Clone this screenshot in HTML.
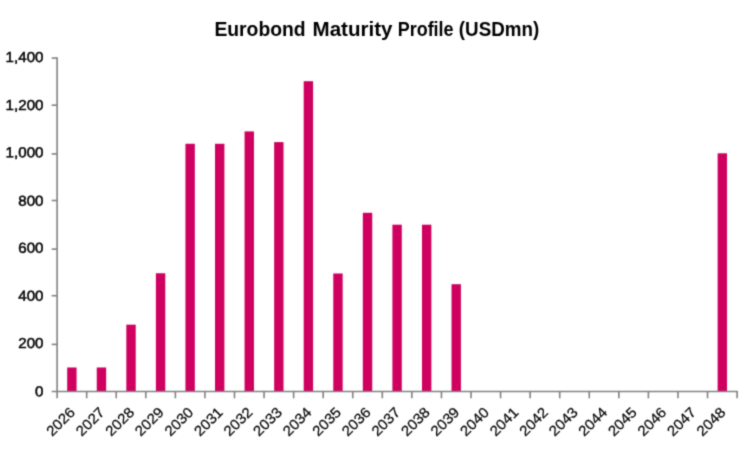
<!DOCTYPE html>
<html><head><meta charset="utf-8"><title>Eurobond Maturity Profile</title>
<style>
html,body{margin:0;padding:0;background:#fff;}
body{width:752px;height:450px;position:relative;overflow:hidden;font-family:"Liberation Sans",sans-serif;}
svg text{font-family:"Liberation Sans",sans-serif;}
</style></head><body>
<svg width="752" height="450" viewBox="0 0 752 450" style="position:absolute;left:0;top:0"><defs><filter id="bl" color-interpolation-filters="sRGB" x="0" y="0" width="752" height="450" filterUnits="userSpaceOnUse"><feConvolveMatrix order="3" kernelMatrix="1 4 1 4 16 4 1 4 1" divisor="36" edgeMode="none" preserveAlpha="false"/></filter></defs><g filter="url(#bl)">
<rect x="67.18" y="367.50" width="9.4" height="23.80" fill="#CF005F"/>
<rect x="96.75" y="367.50" width="9.4" height="23.80" fill="#CF005F"/>
<rect x="126.31" y="324.66" width="9.4" height="66.64" fill="#CF005F"/>
<rect x="155.88" y="273.25" width="9.4" height="118.05" fill="#CF005F"/>
<rect x="185.44" y="143.78" width="9.4" height="247.52" fill="#CF005F"/>
<rect x="215.01" y="143.78" width="9.4" height="247.52" fill="#CF005F"/>
<rect x="244.57" y="131.40" width="9.4" height="259.90" fill="#CF005F"/>
<rect x="274.14" y="142.11" width="9.4" height="249.19" fill="#CF005F"/>
<rect x="303.70" y="81.19" width="9.4" height="310.11" fill="#CF005F"/>
<rect x="333.27" y="273.49" width="9.4" height="117.81" fill="#CF005F"/>
<rect x="362.83" y="212.80" width="9.4" height="178.50" fill="#CF005F"/>
<rect x="392.40" y="224.70" width="9.4" height="166.60" fill="#CF005F"/>
<rect x="421.97" y="224.70" width="9.4" height="166.60" fill="#CF005F"/>
<rect x="451.53" y="284.20" width="9.4" height="107.10" fill="#CF005F"/>
<rect x="717.62" y="153.30" width="9.4" height="238.00" fill="#CF005F"/>
<line x1="57.1" y1="57.300000000000004" x2="57.1" y2="398.3" stroke="#828282" stroke-width="1.6"/>
<line x1="51.7" y1="391.45" x2="737.9" y2="391.45" stroke="#828282" stroke-width="1.6"/>
<line x1="51.7" y1="344.40" x2="57.1" y2="344.40" stroke="#828282" stroke-width="1.6"/>
<line x1="51.7" y1="295.70" x2="57.1" y2="295.70" stroke="#828282" stroke-width="1.6"/>
<line x1="51.7" y1="249.10" x2="57.1" y2="249.10" stroke="#828282" stroke-width="1.6"/>
<line x1="51.7" y1="200.50" x2="57.1" y2="200.50" stroke="#828282" stroke-width="1.6"/>
<line x1="51.7" y1="153.90" x2="57.1" y2="153.90" stroke="#828282" stroke-width="1.6"/>
<line x1="51.7" y1="105.20" x2="57.1" y2="105.20" stroke="#828282" stroke-width="1.6"/>
<line x1="51.7" y1="58.10" x2="57.1" y2="58.10" stroke="#828282" stroke-width="1.6"/>
<line x1="86.67" y1="391.3" x2="86.67" y2="398.3" stroke="#828282" stroke-width="1.6"/>
<line x1="116.23" y1="391.3" x2="116.23" y2="398.3" stroke="#828282" stroke-width="1.6"/>
<line x1="145.80" y1="391.3" x2="145.80" y2="398.3" stroke="#828282" stroke-width="1.6"/>
<line x1="175.36" y1="391.3" x2="175.36" y2="398.3" stroke="#828282" stroke-width="1.6"/>
<line x1="204.93" y1="391.3" x2="204.93" y2="398.3" stroke="#828282" stroke-width="1.6"/>
<line x1="234.49" y1="391.3" x2="234.49" y2="398.3" stroke="#828282" stroke-width="1.6"/>
<line x1="264.06" y1="391.3" x2="264.06" y2="398.3" stroke="#828282" stroke-width="1.6"/>
<line x1="293.62" y1="391.3" x2="293.62" y2="398.3" stroke="#828282" stroke-width="1.6"/>
<line x1="323.19" y1="391.3" x2="323.19" y2="398.3" stroke="#828282" stroke-width="1.6"/>
<line x1="352.75" y1="391.3" x2="352.75" y2="398.3" stroke="#828282" stroke-width="1.6"/>
<line x1="382.32" y1="391.3" x2="382.32" y2="398.3" stroke="#828282" stroke-width="1.6"/>
<line x1="411.88" y1="391.3" x2="411.88" y2="398.3" stroke="#828282" stroke-width="1.6"/>
<line x1="441.45" y1="391.3" x2="441.45" y2="398.3" stroke="#828282" stroke-width="1.6"/>
<line x1="471.01" y1="391.3" x2="471.01" y2="398.3" stroke="#828282" stroke-width="1.6"/>
<line x1="500.58" y1="391.3" x2="500.58" y2="398.3" stroke="#828282" stroke-width="1.6"/>
<line x1="530.14" y1="391.3" x2="530.14" y2="398.3" stroke="#828282" stroke-width="1.6"/>
<line x1="559.71" y1="391.3" x2="559.71" y2="398.3" stroke="#828282" stroke-width="1.6"/>
<line x1="589.27" y1="391.3" x2="589.27" y2="398.3" stroke="#828282" stroke-width="1.6"/>
<line x1="618.84" y1="391.3" x2="618.84" y2="398.3" stroke="#828282" stroke-width="1.6"/>
<line x1="648.40" y1="391.3" x2="648.40" y2="398.3" stroke="#828282" stroke-width="1.6"/>
<line x1="677.97" y1="391.3" x2="677.97" y2="398.3" stroke="#828282" stroke-width="1.6"/>
<line x1="707.53" y1="391.3" x2="707.53" y2="398.3" stroke="#828282" stroke-width="1.6"/>
<line x1="737.10" y1="391.3" x2="737.10" y2="398.3" stroke="#828282" stroke-width="1.6"/>
<text transform="rotate(-0.03 43 396.30)" x="35.08" y="396.30" font-size="14.4" fill="#000" stroke="#000" stroke-width="0.5" textLength="8.42" lengthAdjust="spacingAndGlyphs">0</text>
<text transform="rotate(-0.03 43 348.10)" x="18.24" y="348.10" font-size="14.4" fill="#000" stroke="#000" stroke-width="0.5" textLength="25.26" lengthAdjust="spacingAndGlyphs">200</text>
<text transform="rotate(-0.03 43 300.80)" x="18.24" y="300.80" font-size="14.4" fill="#000" stroke="#000" stroke-width="0.5" textLength="25.26" lengthAdjust="spacingAndGlyphs">400</text>
<text transform="rotate(-0.03 43 252.80)" x="18.24" y="252.80" font-size="14.4" fill="#000" stroke="#000" stroke-width="0.5" textLength="25.26" lengthAdjust="spacingAndGlyphs">600</text>
<text transform="rotate(-0.03 43 205.80)" x="18.24" y="205.80" font-size="14.4" fill="#000" stroke="#000" stroke-width="0.5" textLength="25.26" lengthAdjust="spacingAndGlyphs">800</text>
<text transform="rotate(-0.03 43 157.20)" x="5.61" y="157.20" font-size="14.4" fill="#000" stroke="#000" stroke-width="0.5" textLength="37.89" lengthAdjust="spacingAndGlyphs">1,000</text>
<text transform="rotate(-0.03 43 109.90)" x="5.61" y="109.90" font-size="14.4" fill="#000" stroke="#000" stroke-width="0.5" textLength="37.89" lengthAdjust="spacingAndGlyphs">1,200</text>
<text transform="rotate(-0.03 43 62.00)" x="5.61" y="62.00" font-size="14.4" fill="#000" stroke="#000" stroke-width="0.5" textLength="37.89" lengthAdjust="spacingAndGlyphs">1,400</text>
<text transform="translate(68.68 405.90) rotate(-45)" x="-33.68" y="10.31" font-size="14.4" fill="#000" stroke="#000" stroke-width="0.22" textLength="33.68" lengthAdjust="spacingAndGlyphs">2026</text>
<text transform="translate(98.25 405.90) rotate(-45)" x="-33.68" y="10.31" font-size="14.4" fill="#000" stroke="#000" stroke-width="0.22" textLength="33.68" lengthAdjust="spacingAndGlyphs">2027</text>
<text transform="translate(127.81 405.90) rotate(-45)" x="-33.68" y="10.31" font-size="14.4" fill="#000" stroke="#000" stroke-width="0.22" textLength="33.68" lengthAdjust="spacingAndGlyphs">2028</text>
<text transform="translate(157.38 405.90) rotate(-45)" x="-33.68" y="10.31" font-size="14.4" fill="#000" stroke="#000" stroke-width="0.22" textLength="33.68" lengthAdjust="spacingAndGlyphs">2029</text>
<text transform="translate(186.94 405.90) rotate(-45)" x="-33.68" y="10.31" font-size="14.4" fill="#000" stroke="#000" stroke-width="0.22" textLength="33.68" lengthAdjust="spacingAndGlyphs">2030</text>
<text transform="translate(216.51 405.90) rotate(-45)" x="-33.68" y="10.31" font-size="14.4" fill="#000" stroke="#000" stroke-width="0.22" textLength="33.68" lengthAdjust="spacingAndGlyphs">2031</text>
<text transform="translate(246.07 405.90) rotate(-45)" x="-33.68" y="10.31" font-size="14.4" fill="#000" stroke="#000" stroke-width="0.22" textLength="33.68" lengthAdjust="spacingAndGlyphs">2032</text>
<text transform="translate(275.64 405.90) rotate(-45)" x="-33.68" y="10.31" font-size="14.4" fill="#000" stroke="#000" stroke-width="0.22" textLength="33.68" lengthAdjust="spacingAndGlyphs">2033</text>
<text transform="translate(305.20 405.90) rotate(-45)" x="-33.68" y="10.31" font-size="14.4" fill="#000" stroke="#000" stroke-width="0.22" textLength="33.68" lengthAdjust="spacingAndGlyphs">2034</text>
<text transform="translate(334.77 405.90) rotate(-45)" x="-33.68" y="10.31" font-size="14.4" fill="#000" stroke="#000" stroke-width="0.22" textLength="33.68" lengthAdjust="spacingAndGlyphs">2035</text>
<text transform="translate(364.33 405.90) rotate(-45)" x="-33.68" y="10.31" font-size="14.4" fill="#000" stroke="#000" stroke-width="0.22" textLength="33.68" lengthAdjust="spacingAndGlyphs">2036</text>
<text transform="translate(393.90 405.90) rotate(-45)" x="-33.68" y="10.31" font-size="14.4" fill="#000" stroke="#000" stroke-width="0.22" textLength="33.68" lengthAdjust="spacingAndGlyphs">2037</text>
<text transform="translate(423.47 405.90) rotate(-45)" x="-33.68" y="10.31" font-size="14.4" fill="#000" stroke="#000" stroke-width="0.22" textLength="33.68" lengthAdjust="spacingAndGlyphs">2038</text>
<text transform="translate(453.03 405.90) rotate(-45)" x="-33.68" y="10.31" font-size="14.4" fill="#000" stroke="#000" stroke-width="0.22" textLength="33.68" lengthAdjust="spacingAndGlyphs">2039</text>
<text transform="translate(482.60 405.90) rotate(-45)" x="-33.68" y="10.31" font-size="14.4" fill="#000" stroke="#000" stroke-width="0.22" textLength="33.68" lengthAdjust="spacingAndGlyphs">2040</text>
<text transform="translate(512.16 405.90) rotate(-45)" x="-33.68" y="10.31" font-size="14.4" fill="#000" stroke="#000" stroke-width="0.22" textLength="33.68" lengthAdjust="spacingAndGlyphs">2041</text>
<text transform="translate(541.73 405.90) rotate(-45)" x="-33.68" y="10.31" font-size="14.4" fill="#000" stroke="#000" stroke-width="0.22" textLength="33.68" lengthAdjust="spacingAndGlyphs">2042</text>
<text transform="translate(571.29 405.90) rotate(-45)" x="-33.68" y="10.31" font-size="14.4" fill="#000" stroke="#000" stroke-width="0.22" textLength="33.68" lengthAdjust="spacingAndGlyphs">2043</text>
<text transform="translate(600.86 405.90) rotate(-45)" x="-33.68" y="10.31" font-size="14.4" fill="#000" stroke="#000" stroke-width="0.22" textLength="33.68" lengthAdjust="spacingAndGlyphs">2044</text>
<text transform="translate(630.42 405.90) rotate(-45)" x="-33.68" y="10.31" font-size="14.4" fill="#000" stroke="#000" stroke-width="0.22" textLength="33.68" lengthAdjust="spacingAndGlyphs">2045</text>
<text transform="translate(659.99 405.90) rotate(-45)" x="-33.68" y="10.31" font-size="14.4" fill="#000" stroke="#000" stroke-width="0.22" textLength="33.68" lengthAdjust="spacingAndGlyphs">2046</text>
<text transform="translate(689.55 405.90) rotate(-45)" x="-33.68" y="10.31" font-size="14.4" fill="#000" stroke="#000" stroke-width="0.22" textLength="33.68" lengthAdjust="spacingAndGlyphs">2047</text>
<text transform="translate(719.12 405.90) rotate(-45)" x="-33.68" y="10.31" font-size="14.4" fill="#000" stroke="#000" stroke-width="0.22" textLength="33.68" lengthAdjust="spacingAndGlyphs">2048</text>
<text x="214.40" y="35.5" font-size="19.5" font-weight="bold" fill="#000" textLength="91.30" lengthAdjust="spacingAndGlyphs">Eurobond</text>
<text x="312.50" y="35.5" font-size="19.5" font-weight="bold" fill="#000" textLength="80.00" lengthAdjust="spacingAndGlyphs">Maturity</text>
<text x="397.70" y="35.5" font-size="19.5" font-weight="bold" fill="#000" textLength="55.90" lengthAdjust="spacingAndGlyphs">Profile</text>
<text x="458.80" y="35.5" font-size="19.5" font-weight="bold" fill="#000" textLength="80.40" lengthAdjust="spacingAndGlyphs">(USDmn)</text>
</g></svg>
</body></html>
